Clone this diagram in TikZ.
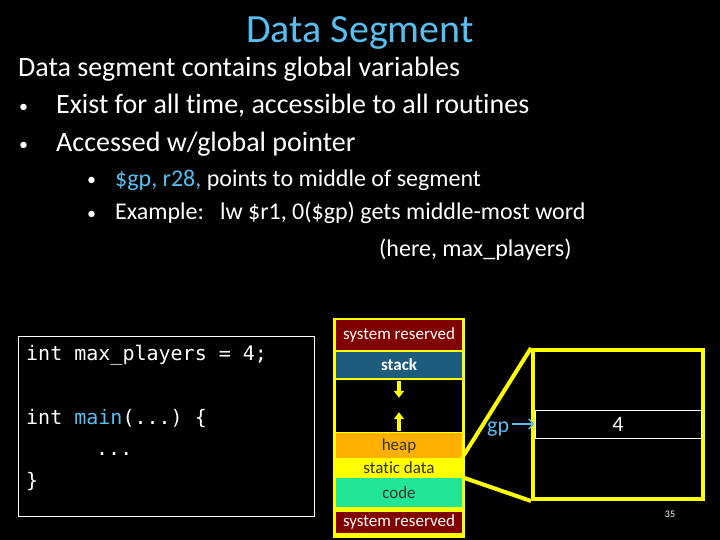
\documentclass[tikz,border=0pt]{standalone}
\usepackage{fontspec}
\setmainfont{Carlito}[Ligatures=NoCommon]
\setmonofont{DejaVu Sans Mono}
\usetikzlibrary{
    arrows.meta,
    positioning
}
\definecolor{slideblue}{RGB}{88,190,240}
\definecolor{sysred}{RGB}{128,0,0}
\definecolor{stackblue}{RGB}{30,92,125}
\definecolor{heaporange}{RGB}{255,176,0}
\definecolor{codegreen}{RGB}{32,230,150}
\definecolor{segyellow}{RGB}{255,255,0}
\tikzset{
    % --- Slide text line (anchored on its baseline) ---
    textline/.style = {
        anchor=base west, text=white, inner sep=0pt,
        font=\fontsize{28}{32}\selectfont
    },
    % --- Smaller text for sub-bullets ---
    subline/.style = {
        textline, font=\fontsize{24}{28}\selectfont
    },
    % --- Bullet mark ---
    bullet/.style = {
        textline, font=\fontsize{18}{20}\selectfont
    },
    % --- Source code line ---
    codeline/.style = {
        anchor=base west, text=white, inner sep=0pt,
        font=\ttfamily\fontsize{20}{24}\selectfont
    },
    % --- Memory segment inside the column ---
    segment/.style = {
        rectangle, minimum width=126pt, inner sep=0pt,
        font=\fontsize{17}{19}\selectfont
    },
    % --- Yellow growth arrow ---
    grow arrow/.style = {
        -{Triangle[length=7pt,width=10pt]}, segyellow, line width=3.5pt
    },
    % --- Yellow zoom line ---
    zoom line/.style = {
        segyellow, line width=4pt
    }
}

\begin{document}
\begin{tikzpicture}[x=1pt, y=-1pt]

% ---------------------------------------------------------
% Background
% ---------------------------------------------------------
\fill[black] (0,0) rectangle (720,540);
\useasboundingbox (0,0) rectangle (720,540);

% ---------------------------------------------------------
% 1. Title and bullets
% ---------------------------------------------------------
\node[text=slideblue, inner sep=0pt, anchor=base, font=\fontsize{40}{44}\selectfont] (Title) at (360,43) {Data Segment};

\node[textline] (Intro) at (18,77) {Data segment contains global variables};
\node[bullet] (Dot1) at (19,113) {•};
\node[textline] (Exist) at (56,114) {Exist for all time, accessible to all routines};
\node[bullet] (Dot2) at (19,151) {•};
\node[textline] (Access) at (56,152) {Accessed w/global pointer};

\node[bullet] (SubDot1) at (87,186) {•};
\node[subline] (Points) at (115,187) {\textcolor{slideblue}{\$gp, r28,} points to middle of segment};
\node[bullet] (SubDot2) at (87,219) {•};
\node[subline] (Example) at (115,220) {Example:\hspace{16pt}lw \$r1, 0(\$gp) gets middle-most word};
\node[subline] (Here) at (379,256) {(here, max\_players)};

% ---------------------------------------------------------
% 2. Code box
% ---------------------------------------------------------
\draw[white, line width=0.8pt] (18,336) rectangle (314,516);
\node[codeline] (Decl) at (26,360) {int max\_players = 4;};
\node[codeline] (Main) at (26,424) {int \textcolor{slideblue}{main}(...) \{};
\node[codeline] (Body) at (96,455) {...};
\node[codeline] (Close) at (26,487) {\}};

% ---------------------------------------------------------
% 3. Memory column
% ---------------------------------------------------------
\node[rectangle, fill=segyellow, minimum width=132pt, minimum height=220pt, inner sep=0pt] (Column) at (399,427.5) {};

\node[segment, fill=sysred, text=white, minimum height=30pt] (SysTop) at (399,335) {system reserved};
\node[segment, fill=stackblue, text=white, minimum height=26pt, font=\bfseries\fontsize{17}{19}\selectfont] (Stack) at (399,365) {stack};
\node[segment, fill=black, minimum height=52pt] (Gap) at (399,406) {};
\node[segment, fill=heaporange, text=black!80, minimum height=25pt] (Heap) at (399,445.5) {heap};
\node[segment, fill=segyellow, text=black!80, minimum height=19pt] (Static) at (399,467.5) {static data};
\node[segment, fill=codegreen, text=black!80, minimum height=29pt] (Code) at (399,492.5) {code};
\node[segment, fill=sysred, text=white, minimum height=21pt] (SysBot) at (399,522) {system reserved};

% Growth arrows
\draw[grow arrow] (Gap.north) ++(0,1) -- ++(0,17);
\draw[grow arrow] (Gap.south) ++(0,-1) -- ++(0,-19);

% ---------------------------------------------------------
% 4. Zoomed static data
% ---------------------------------------------------------
\node[rectangle, draw=segyellow, line width=4pt, minimum width=170pt, minimum height=149pt, inner sep=0pt] (Zoom) at (618,424.5) {};
\node[rectangle, draw=white, line width=0.6pt, minimum width=166pt, minimum height=28pt, text=white, font=\fontsize{22}{26}\selectfont] (Slot) at (618,424) {4};

\draw[zoom line] (Static.north east) -- (Zoom.north west);
\draw[zoom line] (Static.south east) -- (Zoom.south west);

% Global pointer
\node[text=slideblue, font=\fontsize{22}{26}\selectfont, anchor=base west, inner sep=0pt] (Gp) at (487,432) {gp};
\draw[-{Straight Barb[length=5pt,width=10pt]}, slideblue, line width=1.4pt] (Gp.east |- Slot.west) ++(3,0) -- (Slot.west);

% ---------------------------------------------------------
% 5. Page number
% ---------------------------------------------------------
\node[text=white, font=\fontsize{10}{12}\selectfont] (Page) at (670,514) {35};

\end{tikzpicture}
\end{document}
